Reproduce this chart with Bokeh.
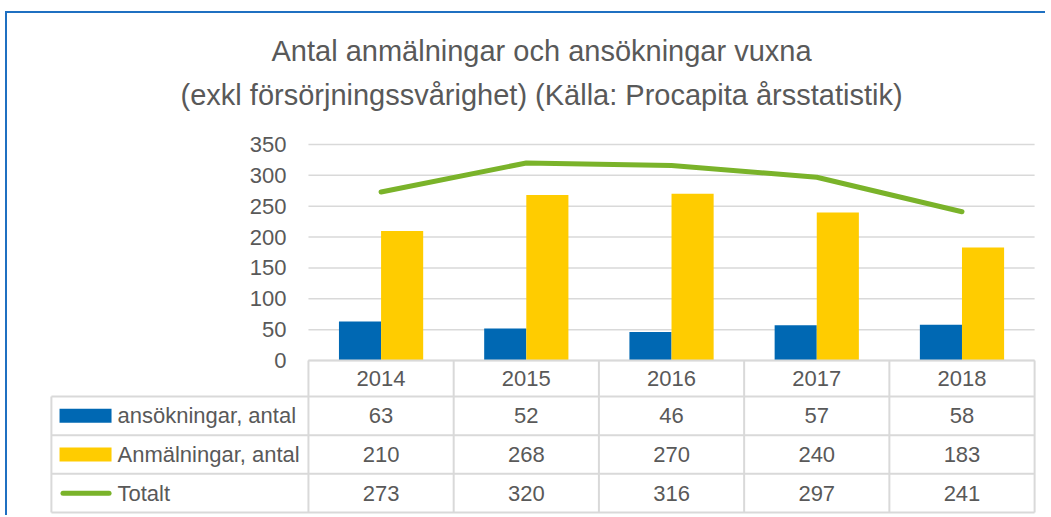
from bokeh.plotting import figure
from bokeh.models import Range1d
from bokeh.core.properties import value
from bokeh.embed import file_html
from bokeh.resources import INLINE
import numpy as np

# ---- data ----
years = ["2014", "2015", "2016", "2017", "2018"]
ansokningar = [63, 52, 46, 57, 58]
anmalningar = [210, 268, 270, 240, 183]
totalt = [273, 320, 316, 297, 241]
series_names = ["ansökningar, antal", "Anmälningar, antal", "Totalt"]
y_ticks = [0, 50, 100, 150, 200, 250, 300, 350]
title_lines = ["Antal anmälningar och ansökningar vuxna",
               "(exkl försörjningssvårighet) (Källa: Procapita årsstatistik)"]

BLUE = "#0068B3"
YELLOW = "#FFCC00"
GREEN = "#7AB32A"
GRID = "#D9D9D9"
TEXT = "#595959"
BORDER = "#1F70C1"
FONT = "Liberation Sans"
FS = "22px"
PAD = 0.02
LEFT = -1.77          # left edge of the legend column (in category widths)
HEADER_TOP = 3.931    # top of the year row, in table-row units

n = len(years)
xc = np.arange(n) + 0.5
edges = np.arange(n + 1)

p = figure(width=1045, height=515, output_backend="svg", toolbar_location=None,
           x_range=Range1d(LEFT - PAD, n + PAD), y_range=Range1d(-251.16, 583.33),
           x_axis_location=None, y_axis_location=None,
           min_border_left=48, min_border_right=8, min_border_top=0, min_border_bottom=0)
p.extra_y_ranges = {"table": Range1d(-0.0776, 13.24)}
p.outline_line_color = None
p.grid.grid_line_color = None
p.border_fill_color = None
p.background_fill_color = None
p.styles = {"box-shadow": f"inset 5px 11px 0 0 white, inset 7px 13px 0 0 {BORDER}"}

# title (two centred lines)
p.text(x=[1.605, 1.605], y=[502.3, 429.4], text=title_lines, text_font=value(FONT),
       text_font_size="29px", text_color=TEXT, text_align="center", text_baseline="middle")

# gridlines and y tick labels
p.segment(x0=[0] * len(y_ticks), y0=y_ticks, x1=[n] * len(y_ticks), y1=y_ticks,
          line_color=GRID, line_width=1.5)
p.text(x=[-0.151] * len(y_ticks), y=y_ticks, text=[str(t) for t in y_ticks],
       text_font=value(FONT), text_font_size=FS, text_color=TEXT,
       text_align="right", text_baseline="middle")

# bars and line
p.vbar(x=xc - 0.145, top=ansokningar, width=0.29, fill_color=BLUE, line_color=None)
p.vbar(x=xc + 0.145, top=anmalningar, width=0.29, fill_color=YELLOW, line_color=None)
p.line(x=xc, y=totalt, line_color=GREEN, line_width=5, line_join="round", line_cap="round")

# ---- data table ----
T = dict(y_range_name="table")
rows = [0, 1, 2, 3]
p.segment(x0=[LEFT] * 4, y0=rows, x1=[n] * 4, y1=rows, line_color=GRID, line_width=2, **T)
p.segment(x0=[0], y0=[HEADER_TOP], x1=[n], y1=[HEADER_TOP], line_color=GRID, line_width=2, **T)
p.segment(x0=edges, y0=[0] * (n + 1), x1=edges, y1=[HEADER_TOP] * (n + 1),
          line_color=GRID, line_width=2, **T)
p.segment(x0=[LEFT], y0=[0], x1=[LEFT], y1=[3], line_color=GRID, line_width=2, **T)

p.text(x=xc, y=[(3 + HEADER_TOP) / 2] * n, text=years, text_font=value(FONT),
       text_font_size=FS, text_color=TEXT, text_align="center", text_baseline="middle", **T)

row_y = [2.5, 1.5, 0.5]
for vals, ry in zip([ansokningar, anmalningar, totalt], row_y):
    p.text(x=xc, y=[ry] * n, text=[str(v) for v in vals], text_font=value(FONT),
           text_font_size=FS, text_color=TEXT, text_align="center", text_baseline="middle", **T)

p.text(x=[LEFT + 0.455] * 3, y=row_y, text=series_names, text_font=value(FONT),
       text_font_size=FS, text_color=TEXT, text_align="left", text_baseline="middle", **T)
p.rect(x=[LEFT + 0.235] * 2, y=row_y[:2], width=52, height=14, width_units="screen",
       height_units="screen", fill_color=[BLUE, YELLOW], line_color=None, **T)
p.segment(x0=[LEFT + 0.08], y0=[row_y[2]], x1=[LEFT + 0.397], y1=[row_y[2]],
          line_color=GREEN, line_width=5, line_cap="round", **T)

open("out.html", "w").write(file_html(p, INLINE))
